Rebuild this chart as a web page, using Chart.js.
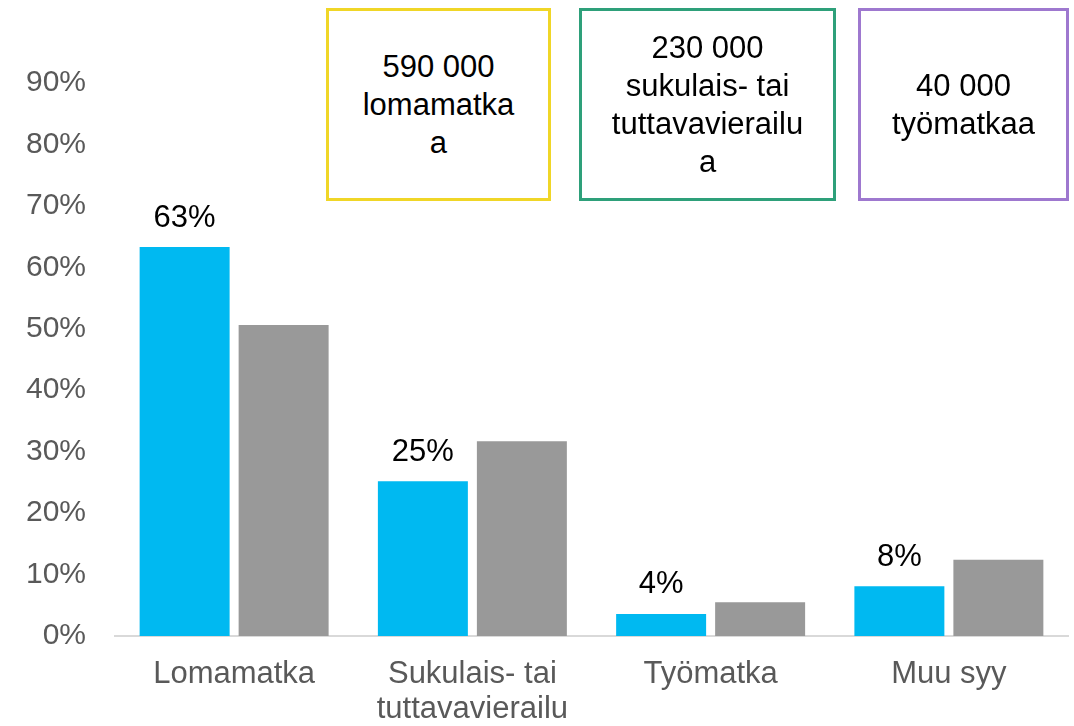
<!DOCTYPE html>
<html>
<head>
<meta charset="utf-8">
<script src="https://cdn.jsdelivr.net/npm/chart.js@4/dist/chart.umd.min.js"></script>
<style>
  body { margin: 0; background: #fff; }
  #wrap { position: relative; width: 1074px; height: 726px; }
  .box {
    position: absolute; top: 8px; height: 193px; box-sizing: border-box;
    border: 3px solid; display: flex; align-items: center; justify-content: center;
    text-align: center; font-family: "Liberation Sans", Arial, sans-serif;
    font-size: 31px; line-height: 38px; color: #000; background: #fff;
  }
</style>
</head>
<body>
<div id="wrap">
  <canvas id="chart"></canvas>
  <div class="box" style="left:326px;width:225px;border-color:#F0D627;">590 000<br>lomamatka<br>a</div>
  <div class="box" style="left:579px;width:257px;border-color:#2EA07A;">230 000<br>sukulais- tai<br>tuttavavierailu<br>a</div>
  <div class="box" style="left:858px;width:211px;border-color:#9E78CF;">40 000<br>työmatkaa</div>
</div>
<script>
const categories = [['Lomamatka'], ['Sukulais- tai', 'tuttavavierailu'], ['Työmatka'], ['Muu syy']];
const seriesA = [63.3, 25.2, 3.6, 8.1];
const seriesB = [50.6, 31.7, 5.5, 12.4];
const yTicks = [0, 10, 20, 30, 40, 50, 60, 70, 80, 90];

const font = "'Liberation Sans', Arial, sans-serif";

const valueLabels = {
  id: 'valueLabels',
  afterDatasetsDraw(chart) {
    const ctx = chart.ctx;
    const meta = chart.getDatasetMeta(0);
    ctx.save();
    ctx.font = '31px ' + font;
    ctx.fillStyle = '#000';
    ctx.textAlign = 'center';
    ctx.textBaseline = 'middle';
    meta.data.forEach((bar, i) => {
      ctx.fillText(Math.round(seriesA[i]) + '%', bar.x, bar.y - 29);
    });
    ctx.restore();
  }
};

new Chart(document.getElementById('chart'), {
  type: 'bar',
  data: {
    labels: categories,
    datasets: [
      { data: seriesA, backgroundColor: '#00B9F1', categoryPercentage: 0.831, barPercentage: 0.909 },
      { data: seriesB, backgroundColor: '#999999', categoryPercentage: 0.831, barPercentage: 0.909 }
    ]
  },
  options: {
    responsive: true,
    maintainAspectRatio: false,
    animation: false,
    layout: { padding: { top: 83, right: 6, left: 0, bottom: 0 } },
    plugins: { legend: { display: false }, tooltip: { enabled: false } },
    scales: {
      x: {
        grid: { display: false, drawTicks: false },
        border: { color: '#D9D9D9', width: 2 },
        ticks: { color: '#595959', font: { family: font, size: 31, lineHeight: 1.13 }, padding: 21, maxRotation: 0 },
        afterFit: s => { s.height = 90; }
      },
      y: {
        min: 0, max: 90,
        grid: { display: false, drawTicks: false },
        border: { display: false },
        afterBuildTicks: s => { s.ticks = yTicks.map(v => ({ value: v })); },
        ticks: { color: '#595959', font: { family: font, size: 30 }, padding: 29, callback: v => v + '%' },
        afterFit: s => { s.width = 115; }
      }
    }
  },
  plugins: [valueLabels]
});
</script>
</body>
</html>
